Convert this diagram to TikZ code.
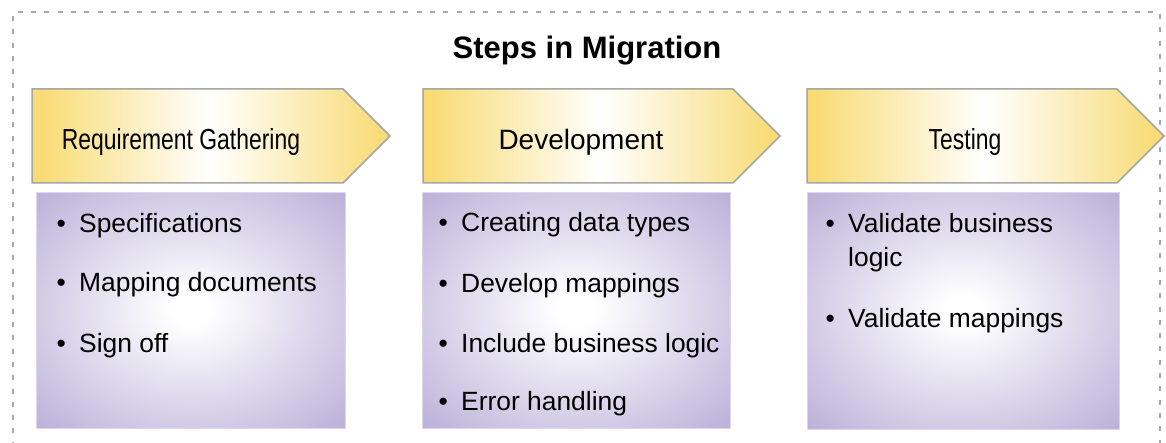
\documentclass[tikz,border=0pt]{standalone}
\usepackage{fontspec}
\setmainfont{Liberation Sans}
\newfontfamily\narrowfont[FakeStretch=0.79]{Liberation Sans}
\usepackage{tikz}
\usetikzlibrary{positioning}

\definecolor{stepyellow}{HTML}{F8DA70}
\definecolor{boxlilac}{HTML}{B9B0D8}
\definecolor{framegray}{HTML}{A8A8A8}
\pgfdeclareradialshading{lilacglow}{\pgfpoint{0bp}{0bp}}{color(0bp)=(white); color(3bp)=(white); color(36bp)=(boxlilac); color(50bp)=(boxlilac)}
\newcommand{\bul}{\makebox[22.5pt][l]{\textbullet}}
\newcommand{\nobul}{\hspace*{22.5pt}}

\begin{document}
\begin{tikzpicture}[x=1pt,y=-1pt,
  arrowshape/.style={draw=gray!70,line width=1.5pt,left color=stepyellow,right color=stepyellow,middle color=white},
  listbox/.style={draw=boxlilac!50,line width=1pt,shading=lilacglow},
  steplabel/.style={anchor=base,inner sep=0pt},
  bulletitem/.style={anchor=base west,inner sep=0pt,font=\fontsize{26.4}{34}\selectfont}]
\useasboundingbox (0,0) rectangle (1166,443);
\draw [framegray,line width=2pt,dash pattern=on 5pt off 8.3pt] (13,460) -- (13,12.5) -- (1160,12.5) -- (1160,460);
\node [anchor=base,font=\bfseries\fontsize{31}{36}\selectfont] (title) at (587,59) {Steps in Migration};

% step arrows
\shadedraw [arrowshape] (32,89) -- (343,89) -- (390,136) -- (343,183) -- (32,183) -- cycle;
\shadedraw [arrowshape] (423,89) -- (733,89) -- (780,136) -- (733,183) -- (423,183) -- cycle;
\shadedraw [arrowshape] (807,89) -- (1117,89) -- (1164,136) -- (1117,183) -- (807,183) -- cycle;
\node [steplabel,font=\narrowfont\fontsize{29}{34}\selectfont] (req) at (181,150) {Requirement Gathering};
\node [steplabel,font=\fontsize{28}{34}\selectfont] (dev) at (581,150) {Development};
\node [steplabel,font=\narrowfont\fontsize{29}{34}\selectfont] (test) at (965,150) {Testing};

% lists
\shadedraw [listbox] (36,193) rectangle (345,428);
\shadedraw [listbox] (422,193) rectangle (730,428);
\shadedraw [listbox] (807,193) rectangle (1119,429);
\node [bulletitem] (req1) at (56.5,233) {\bul Specifications};
\node [bulletitem] (req2) at (56.5,292) {\bul Mapping documents};
\node [bulletitem] (req3) at (56.5,352) {\bul Sign off};
\node [bulletitem] (dev1) at (438.5,232) {\bul Creating data types};
\node [bulletitem] (dev2) at (438.5,293) {\bul Develop mappings};
\node [bulletitem] (dev3) at (438.5,352) {\bul Include business logic};
\node [bulletitem] (dev4) at (438.5,410) {\bul Error handling};
\node [bulletitem] (test1) at (825.5,233) {\bul Validate business};
\node [bulletitem] (test1b) at (825.5,267) {\nobul logic};
\node [bulletitem] (test2) at (825.5,327) {\bul Validate mappings};
\end{tikzpicture}
\end{document}
